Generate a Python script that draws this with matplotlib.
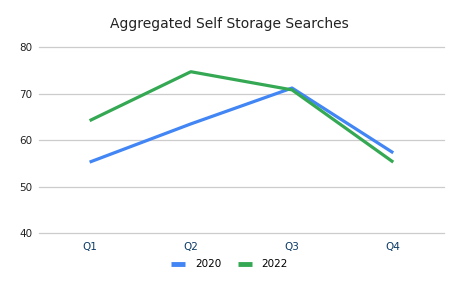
import matplotlib
matplotlib.use("Agg")
import matplotlib.pyplot as plt

quarters = ["Q1", "Q2", "Q3", "Q4"]
searches_2020 = [55.3, 63.5, 71.2, 57.3]
searches_2022 = [64.2, 74.7, 70.8, 55.3]
y_ticks = [40, 50, 60, 70, 80]

plt.rcParams['font.family'] = ['DejaVu Sans']

fig = plt.figure(figsize=(4.59, 2.85), dpi=100)
ax = fig.add_axes([0.085, 0.181, 0.882, 0.654])

x = range(len(quarters))
ax.plot(x, searches_2020, color="#4285F4", lw=2.3, label="2020", solid_capstyle="butt")
ax.plot(x, searches_2022, color="#34A853", lw=2.3, label="2022", solid_capstyle="butt")

ax.set_xlim(-0.5, 3.5)
ax.set_ylim(40, 80)
ax.set_yticks(y_ticks)
ax.set_xticks(list(x))
ax.set_xticklabels(quarters, color="#0b3a66")
ax.tick_params(axis="both", length=0, labelsize=7.5)
ax.tick_params(axis="x", pad=6)
ax.tick_params(axis="y", pad=5, labelcolor="#222222")
ax.grid(axis="y", color="#cccccc", lw=0.9)
for gl in ax.get_ygridlines():
    gl.set_clip_on(False)
ax.set_axisbelow(True)
for s in ax.spines.values():
    s.set_visible(False)

fig.text(0.5, 0.915, "Aggregated Self Storage Searches", ha="center", va="center",
         fontsize=10, color="#222222")

fig.legend(loc="center", bbox_to_anchor=(0.5, 0.073), ncol=2, frameon=False,
           fontsize=7.5, handlelength=1.4, handletextpad=0.9, columnspacing=1.6)
for h in fig.legends[0].get_lines():
    h.set_linewidth(3.5)

fig.savefig("out.png", dpi=100)
